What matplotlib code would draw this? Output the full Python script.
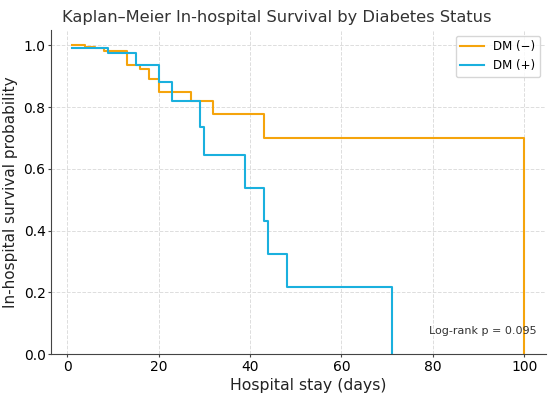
import numpy as np
import matplotlib.pyplot as plt

# Kaplan-Meier step points (time in days, survival probability)
dm_neg_t = [1, 4, 6, 8, 13, 16, 18, 20, 27, 32, 43, 100]
dm_neg_s = [1.0, 0.996, 0.99, 0.981, 0.936, 0.922, 0.89, 0.85, 0.821, 0.776, 0.70, 0.0]

dm_pos_t = [1, 9, 15, 20, 23, 29, 30, 39, 43, 44, 48, 71]
dm_pos_s = [0.99, 0.974, 0.936, 0.882, 0.819, 0.736, 0.644, 0.538, 0.43, 0.325, 0.216, 0.0]

logrank_text = "Log-rank p = 0.095"

fig, ax = plt.subplots(figsize=(5.5, 3.93), dpi=100)
ax.step(dm_neg_t, dm_neg_s, where="post", color="#f5a40c", lw=1.5, label="DM (\u2212)")
ax.step(dm_pos_t, dm_pos_s, where="post", color="#1ab0de", lw=1.5, label="DM (+)")

ax.set_ylim(0, 1.05)
ax.set_xlim(-3.5, 104.8)
ax.set_xlabel("Hospital stay (days)", fontsize=11.3, color="#222222", labelpad=3, x=0.52)
ax.set_ylabel("In-hospital survival probability", fontsize=11, color="#222222", labelpad=4)
ax.set_title("Kaplan\u2013Meier In-hospital Survival by Diabetes Status", fontsize=11.7,
             color="#333333", x=0.455)
ax.grid(True, linestyle="--", color="#dddddd", lw=0.7)
ax.spines["top"].set_visible(False)
ax.spines["right"].set_visible(False)
for s in ("left", "bottom"):
    ax.spines[s].set_color("#444444")
ax.tick_params(labelsize=10, length=2, pad=2, color="#444444")
ax.legend(loc="upper right", fontsize=8.5)
ax.text(0.98, 0.07, logrank_text, transform=ax.transAxes, ha="right", va="center", fontsize=8, color="#333333")

fig.subplots_adjust(left=0.093, right=0.993, top=0.924, bottom=0.099)
fig.savefig("out.png")
